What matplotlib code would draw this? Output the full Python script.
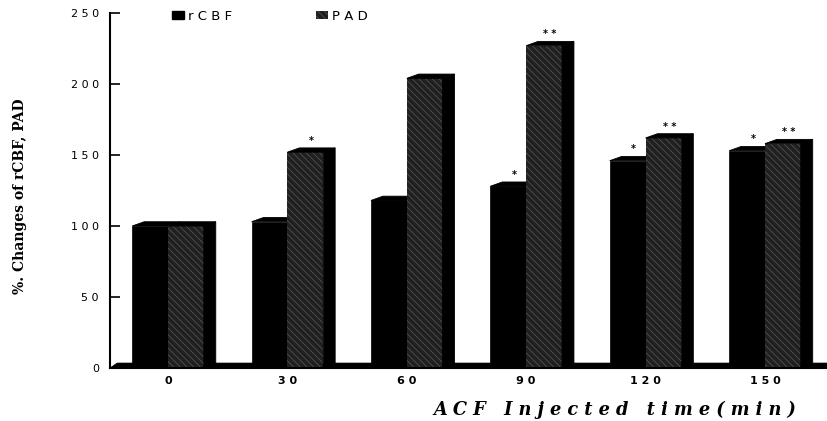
import numpy as np
import matplotlib
matplotlib.use("Agg")
import matplotlib.pyplot as plt
from matplotlib.patches import Polygon, Patch

# ------------------------------------------------------------
# datos (% de cambio)
# ------------------------------------------------------------
tiempos = ["0", "30", "60", "90", "120", "150"]
rcbf = [100, 103, 118, 128, 146, 153]
pad = [100, 152, 204, 227, 162, 158]
sig_rcbf = ["", "", "", "*", "*", "*"]
sig_pad = ["", "*", "", "**", "**", "**"]

def espaciar(s):
    return " ".join(s)

plt.rcParams["hatch.linewidth"] = 0.5

fig = plt.figure(figsize=(8.28, 4.21), dpi=100)
ax = fig.add_axes([110 / 828, 53 / 421, 718 / 828, 355 / 421])

x = np.arange(len(tiempos))
w = 0.30      # ancho de la cara frontal
dx = 0.10     # profundidad (horizontal)
dy = 3.0      # profundidad (vertical, en unidades del eje)
xmin, xmax = -0.486, 5.528
color_pad = "#202020"
color_rayado = "#5a5a5a"

# piso 3D
ax.add_patch(Polygon([(xmin, 0), (xmin + 0.06, dy + 0.5), (xmax, dy + 0.5), (xmax, 0)],
                     closed=True, facecolor="black", edgecolor="black", lw=0.5, zorder=1))

# rCBF: cara frontal negra
ax.bar(x - w / 2, rcbf, width=w, color="black", edgecolor="black", lw=0.5, zorder=2)
# PAD: cara frontal oscura con rayado fino
ax.bar(x + w / 2, pad, width=w, facecolor=color_pad, edgecolor=color_rayado,
       hatch="\\\\\\\\\\", lw=0, zorder=2)

for i in range(len(tiempos)):
    c = x[i]
    v1, v2 = rcbf[i], pad[i]
    # tapa rCBF (queda detras de la cara de PAD)
    ax.add_patch(Polygon([(c - w, v1), (c, v1), (c + dx, v1 + dy), (c - w + dx, v1 + dy)],
                         closed=True, facecolor="black", edgecolor="black", lw=0.6, zorder=1.9))
    # tapa PAD
    ax.add_patch(Polygon([(c, v2), (c + w, v2), (c + w + dx, v2 + dy), (c + dx, v2 + dy)],
                         closed=True, facecolor="black", edgecolor="black", lw=0.6, zorder=3))
    # lado PAD
    ax.add_patch(Polygon([(c + w, 0), (c + w, v2), (c + w + dx, v2 + dy), (c + w + dx, dy)],
                         closed=True, facecolor="black", edgecolor="black", lw=0.6, zorder=3))
    # asteriscos de significancia
    if sig_rcbf[i]:
        ax.text(c - w / 2 + dx / 2, v1 + dy + 1.5, " ".join(sig_rcbf[i]), ha="center",
                va="bottom", fontsize=7, fontweight="bold", zorder=4)
    if sig_pad[i]:
        ax.text(c + w / 2 + dx / 2, v2 + dy + 1.5, " ".join(sig_pad[i]), ha="center",
                va="bottom", fontsize=7, fontweight="bold", zorder=4)

ax.set_xlim(xmin, xmax)
ax.set_ylim(0, 250)
ax.set_yticks(np.arange(0, 251, 50))
ax.set_yticklabels([espaciar(str(v)) for v in range(0, 251, 50)], fontsize=8)
ax.set_xticks(x)
ax.set_xticklabels([espaciar(t) for t in tiempos], fontsize=8, fontweight="bold")
ax.tick_params(axis="y", direction="in", length=7, width=1.2, pad=8)
ax.tick_params(axis="x", length=0, pad=6)

for s in ["top", "right"]:
    ax.spines[s].set_visible(False)
ax.spines["left"].set_linewidth(1.5)
ax.spines["bottom"].set_linewidth(1.5)

fig.text(20 / 828, 1 - 196 / 421, "%. Changes of rCBF, PAD", rotation=90,
         ha="center", va="center", fontsize=10, fontweight="bold", family="DejaVu Serif")
fig.text(796 / 828, 1 - 410 / 421, "A C F   I n j e c t e d   t i m e ( m i n )",
         ha="right", va="center", fontsize=12.8, fontweight="bold", style="italic",
         family="DejaVu Serif")

handles = [Patch(facecolor="black", edgecolor="black", label=espaciar("rCBF")),
           Patch(facecolor=color_pad, edgecolor=color_rayado, hatch="\\\\\\\\\\", lw=0,
                 label=espaciar("PAD"))]
fig.legend(handles=handles, ncol=2, frameon=False, fontsize=9.5,
           loc="center left", bbox_to_anchor=(160 / 828, 1 - 16 / 421),
           handlelength=0.9, handleheight=0.6, handletextpad=0.3, columnspacing=6.4)

fig.savefig("out.png", dpi=100)
